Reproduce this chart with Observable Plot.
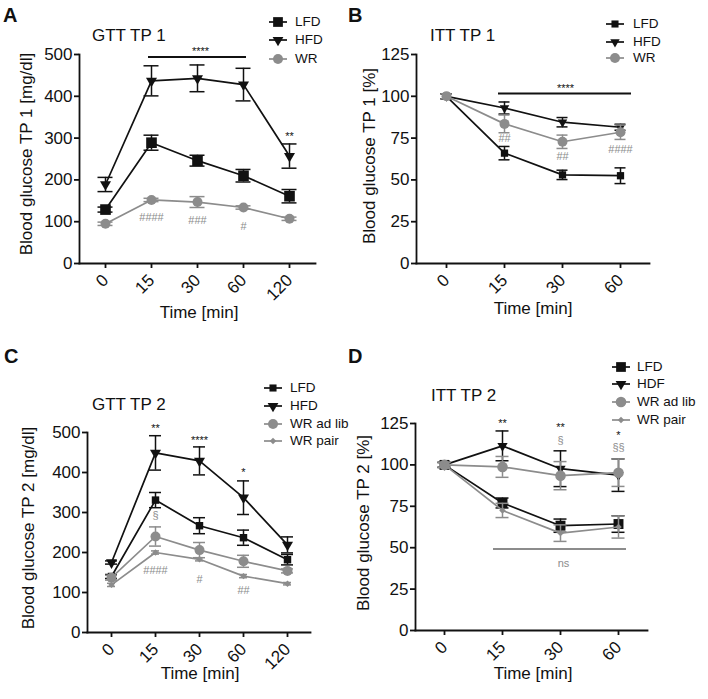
<!DOCTYPE html>
<html><head><meta charset="utf-8">
<script src="https://cdn.jsdelivr.net/npm/d3@7"></script>
<script src="https://cdn.jsdelivr.net/npm/@observablehq/plot@0.6"></script>
<style>
body{margin:0;background:#fff;font-family:"Liberation Sans",Arial,sans-serif;}
#fig{position:relative;width:708px;height:699px;overflow:hidden;background:#fff;}
.abs{position:absolute;white-space:nowrap;color:#111;line-height:1;}
.plot{position:absolute;}
</style></head><body><div id="fig"></div>
<script>
// ---------------- data ----------------
const timesGTT = ["0", "15", "30", "60", "120"];
const timesITT = ["0", "15", "30", "60"];

// A: GTT TP 1 (mg/dl)
const gtt1LFD = [129, 289, 246, 210, 161];
const gtt1LFDerr = [6, 18, 13, 15, 16];
const gtt1HFD = [189, 437, 443, 428, 257];
const gtt1HFDerr = [17, 36, 32, 39, 29];
const gtt1WR = [95, 152, 147, 134, 107];
const gtt1WRerr = [4, 4, 13, 4, 4];
const gtt1Black = [{t: "120", y: 312, s: "**"}];
const gtt1Gray = [{t: "15", y: 110, s: "####"}, {t: "30", y: 104, s: "###"}, {t: "60", y: 89, s: "#"}];
const gtt1Bar = [{from: "15", to: "60", y: 494, t: "30", ly: 514, s: "****"}];

// B: ITT TP 1 (%)
const itt1LFD = [100, 66, 53, 52.5];
const itt1LFDerr = [1.5, 4, 2.8, 4.7];
const itt1HFD = [100, 93, 84.5, 81.5];
const itt1HFDerr = [1.5, 3.6, 2.8, 1.8];
const itt1WR = [100, 83.5, 72.8, 78.5];
const itt1WRerr = [1.5, 5.3, 4, 4.3];
const itt1Gray = [{t: "15", y: 74.8, s: "##"}, {t: "30", y: 63.8, s: "##"}, {t: "60", y: 68.4, s: "####"}];
const itt1Bar = [{from: "15", to: "60", y: 101.7, t: "30", ly: 106.5, s: "****"}];

// C: GTT TP 2 (mg/dl)
const gtt2LFD = [140, 331, 267, 237, 182];
const gtt2LFDerr = [5, 19, 20, 19, 13];
const gtt2HFD = [175, 449, 429, 337, 219];
const gtt2HFDerr = [4, 43, 35, 42, 20];
const gtt2WRad = [137, 240, 206, 178, 154];
const gtt2WRaderr = [6, 24, 19, 15, 5];
const gtt2WRpair = [119, 200, 183, 141, 122];
const gtt2WRpairerr = [4, 4, 4, 4, 3];
const gtt2Black = [{t: "15", y: 517, s: "**"}, {t: "30", y: 488, s: "****"}, {t: "60", y: 408, s: "*"}];
const gtt2Gray = [{t: "15", y: 292, s: "§"}, {t: "15", y: 154, s: "####"}, {t: "30", y: 133, s: "#"}, {t: "60", y: 104, s: "##"}];

// D: ITT TP 2 (%)
const itt2LFD = [100, 77, 63.3, 64.3];
const itt2LFDerr = [1.5, 3, 4, 5];
const itt2HDF = [100, 111.5, 97.7, 93.8];
const itt2HDFerr = [1.5, 9, 10.8, 9.8];
const itt2WRad = [100, 98.8, 93.5, 95.3];
const itt2WRaderr = [1.5, 6.3, 8.5, 8.3];
const itt2WRpair = [100, 72.5, 58.8, 62.5];
const itt2WRpairerr = [1.5, 4.3, 5, 6.7];
const itt2Black = [{t: "15", y: 126.6, s: "**"}, {t: "30", y: 124.6, s: "**"}, {t: "60", y: 119.6, s: "*"}];
const itt2Gray = [{t: "30", y: 114.5, s: "§"}, {t: "60", y: 110.5, s: "§§"}];
const itt2GrayBar = [{from: "15", to: "60", y: 49.2, t: "30", ly: 40.6, s: "ns"}];

// ---------------- styles ----------------
const BLACK = "#111111";
const GRAY = "#8c8c8c";
const FONT = "'Liberation Sans', Arial, Helvetica, sans-serif";
const triangleDown = {
  draw(ctx, size) {
    const s = Math.sqrt(size * 4 / Math.sqrt(3));
    const h = s * Math.sqrt(3) / 2;
    ctx.moveTo(-s / 2, -h / 3);
    ctx.lineTo(s / 2, -h / 3);
    ctx.lineTo(0, 2 * h / 3);
    ctx.closePath();
  }
};
const SYM = {square: d3.symbolSquare, tri: triangleDown, circle: d3.symbolCircle, diamond: d3.symbolDiamond2};

const fig = document.getElementById("fig");

function seriesMarks(times, mean, err, sym, color, r, cap) {
  const rows = times.map((t, i) => ({t, y: mean[i], lo: mean[i] - err[i], hi: mean[i] + err[i]}));
  return [
    Plot.line(rows, {x: "t", y: "y", stroke: color, strokeWidth: 1.7}),
    Plot.ruleX(rows, {x: "t", y1: "lo", y2: "hi", stroke: color, strokeWidth: 1.5}),
    Plot.ruleY(rows, {x1: "t", x2: "t", y: "lo", stroke: color, strokeWidth: 1.5, insetLeft: -cap, insetRight: -cap}),
    Plot.ruleY(rows, {x1: "t", x2: "t", y: "hi", stroke: color, strokeWidth: 1.5, insetLeft: -cap, insetRight: -cap}),
    Plot.dot(rows, {x: "t", y: "y", symbol: SYM[sym], r, fill: color, stroke: "none"})
  ];
}

function textMarks(data, color, dy) {
  return Plot.text(data, {x: "t", y: "y", text: "s", fill: color, fontSize: 11, dy});
}

function barMarks(data, color, il, ir, dy) {
  return [
    Plot.ruleY(data, {x1: "from", x2: "to", y: "y", stroke: color, strokeWidth: 2, insetLeft: il, insetRight: ir}),
    Plot.text(data, {x: "t", y: "ly", text: "s", fill: color, fontSize: 11, dx: 3, dy})
  ];
}

function panel(o) {
  const svg = Plot.plot({
    width: o.width, height: o.height,
    marginLeft: o.ml, marginRight: o.mr, marginTop: o.mt, marginBottom: o.mb,
    style: {fontFamily: FONT, fontSize: "17px", color: BLACK, background: "transparent", overflow: "visible"},
    x: {type: "point", domain: o.times, padding: o.padding},
    y: {domain: o.yDomain},
    marks: [
      Plot.axisY({ticks: o.yTicks, tickSize: 5, tickPadding: 2, strokeWidth: 1.8, label: null, tickFormat: d => String(d)}),
      Plot.axisX({tickSize: 5, strokeWidth: 1.8, label: null, tickFormat: () => ""}),
      Plot.text(o.times, {x: d => d, text: d => d, frameAnchor: "bottom", rotate: -45, textAnchor: "end", lineAnchor: "middle", dy: 14, fontSize: 17, fill: BLACK}),
      Plot.frame({anchor: "left", stroke: BLACK, strokeWidth: 1.8}),
      Plot.frame({anchor: "bottom", stroke: BLACK, strokeWidth: 1.8}),
      ...o.marks
    ]
  });
  svg.classList.add("plot");
  svg.style.left = o.left + "px";
  svg.style.top = o.top + "px";
  fig.appendChild(svg);
}

function addText(txt, x, y, size, opts = {}) {
  const d = document.createElement("div");
  d.className = "abs";
  d.textContent = txt;
  d.style.fontSize = size + "px";
  d.style.fontWeight = opts.bold ? "bold" : "normal";
  d.style.left = x + "px";
  d.style.top = y + "px";
  if (opts.rotate) {
    d.style.transform = "translate(-50%,-50%) rotate(-90deg)";
  } else if (opts.center) {
    d.style.transform = "translate(-50%,-50%)";
  } else {
    d.style.transform = "translate(0,-50%)";
  }
  fig.appendChild(d);
}

function legend(entries, symX, textX, ys) {
  entries.forEach((e, i) => {
    const y = ys[i];
    const ns = "http://www.w3.org/2000/svg";
    const svg = document.createElementNS(ns, "svg");
    svg.setAttribute("width", 24); svg.setAttribute("height", 16);
    svg.style.position = "absolute";
    svg.style.left = (symX - 12) + "px";
    svg.style.top = (y - 8) + "px";
    svg.style.overflow = "visible";
    const line = document.createElementNS(ns, "line");
    line.setAttribute("x1", 3); line.setAttribute("x2", 21);
    line.setAttribute("y1", 8); line.setAttribute("y2", 8);
    line.setAttribute("stroke", e.color); line.setAttribute("stroke-width", 1.7);
    svg.appendChild(line);
    const p = document.createElementNS(ns, "path");
    p.setAttribute("d", d3.symbol(SYM[e.sym], Math.PI * e.r * e.r)());
    p.setAttribute("transform", "translate(12,8)");
    p.setAttribute("fill", e.color);
    svg.appendChild(p);
    fig.appendChild(svg);
    addText(e.name, textX, y, 13.5);
  });
}

// ---------------- Panel A ----------------
panel({
  left: 0, top: 0, width: 354, height: 340, ml: 79, mr: 39, mt: 54, mb: 77,
  times: timesGTT, padding: 0.52, yDomain: [0, 500], yTicks: [0, 100, 200, 300, 400, 500],
  marks: [
    ...seriesMarks(timesGTT, gtt1LFD, gtt1LFDerr, "square", BLACK, 6, 7.5),
    ...seriesMarks(timesGTT, gtt1HFD, gtt1HFDerr, "tri", BLACK, 4.1, 7.5),
    ...seriesMarks(timesGTT, gtt1WR, gtt1WRerr, "circle", GRAY, 5, 7.5),
    ...barMarks(gtt1Bar, BLACK, -3, -3, 3),
    textMarks(gtt1Black, BLACK, 3),
    textMarks(gtt1Gray, GRAY, 0)
  ]
});
addText("A", 3, 15, 20, {bold: true});
addText("GTT TP 1", 92, 35, 17);
addText("Blood glucose TP 1 [mg/dl]", 26, 154, 17, {rotate: true});
addText("Time [min]", 199, 312, 17, {center: true});
legend([
  {name: "LFD", sym: "square", color: BLACK, r: 5.5},
  {name: "HFD", sym: "tri", color: BLACK, r: 4},
  {name: "WR", sym: "circle", color: GRAY, r: 5}
], 278, 295, [22, 39.5, 59]);

// ---------------- Panel B ----------------
panel({
  left: 354, top: 0, width: 354, height: 340, ml: 62, mr: 59, mt: 54, mb: 77,
  times: timesITT, padding: 0.49, yDomain: [0, 125], yTicks: [0, 25, 50, 75, 100, 125],
  marks: [
    ...seriesMarks(timesITT, itt1LFD, itt1LFDerr, "square", BLACK, 4.1, 5.5),
    ...seriesMarks(timesITT, itt1HFD, itt1HFDerr, "tri", BLACK, 3.5, 5.5),
    ...seriesMarks(timesITT, itt1WR, itt1WRerr, "circle", GRAY, 5, 5.5),
    ...barMarks(itt1Bar, BLACK, -6, -11, 3),
    textMarks(itt1Gray, GRAY, 0)
  ]
});
addText("B", 348, 15, 20, {bold: true});
addText("ITT TP 1", 430, 35, 17);
addText("Blood glucose TP 1  [%]", 369, 156, 17, {rotate: true});
addText("Time [min]", 533, 308, 17, {center: true});
legend([
  {name: "LFD", sym: "square", color: BLACK, r: 4},
  {name: "HFD", sym: "tri", color: BLACK, r: 3.5},
  {name: "WR", sym: "circle", color: GRAY, r: 5}
], 615, 633, [24, 42, 58]);

// ---------------- Panel C ----------------
panel({
  left: 0, top: 340, width: 354, height: 359, ml: 87, mr: 44, mt: 92, mb: 67,
  times: timesGTT, padding: 0.5, yDomain: [0, 500], yTicks: [0, 100, 200, 300, 400, 500],
  marks: [
    ...seriesMarks(timesGTT, gtt2LFD, gtt2LFDerr, "square", BLACK, 4.2, 6),
    ...seriesMarks(timesGTT, gtt2HFD, gtt2HFDerr, "tri", BLACK, 4.1, 6),
    ...seriesMarks(timesGTT, gtt2WRad, gtt2WRaderr, "circle", GRAY, 5, 6),
    ...seriesMarks(timesGTT, gtt2WRpair, gtt2WRpairerr, "diamond", GRAY, 2.9, 4),
    textMarks(gtt2Black, BLACK, 3),
    textMarks(gtt2Gray, GRAY, 0)
  ]
});
addText("C", 4, 356, 20, {bold: true});
addText("GTT TP 2", 92, 404, 17);
addText("Blood glucose TP 2 [mg/dl]", 28, 528, 17, {rotate: true});
addText("Time [min]", 200, 673, 17, {center: true});
legend([
  {name: "LFD", sym: "square", color: BLACK, r: 4},
  {name: "HFD", sym: "tri", color: BLACK, r: 4},
  {name: "WR ad lib", sym: "circle", color: GRAY, r: 5},
  {name: "WR pair", sym: "diamond", color: GRAY, r: 2.9}
], 273, 290, [388, 406, 424, 441]);

// ---------------- Panel D ----------------
panel({
  left: 354, top: 340, width: 354, height: 359, ml: 61, mr: 61, mt: 83, mb: 69,
  times: timesITT, padding: 0.5, yDomain: [0, 125], yTicks: [0, 25, 50, 75, 100, 125],
  marks: [
    ...seriesMarks(timesITT, itt2LFD, itt2LFDerr, "square", BLACK, 5.6, 6.5),
    ...seriesMarks(timesITT, itt2HDF, itt2HDFerr, "tri", BLACK, 3.8, 6.5),
    ...seriesMarks(timesITT, itt2WRad, itt2WRaderr, "circle", GRAY, 5.3, 6.5),
    ...seriesMarks(timesITT, itt2WRpair, itt2WRpairerr, "diamond", GRAY, 2.9, 6.5),
    ...barMarks(itt2GrayBar, GRAY, -9, -8, 0),
    textMarks(itt2Black, BLACK, 3),
    textMarks(itt2Gray, GRAY, 0)
  ]
});
addText("D", 348, 356, 20, {bold: true});
addText("ITT TP 2", 431, 395, 17);
addText("Blood glucose TP 2 [%]", 363, 523, 17, {rotate: true});
addText("Time [min]", 533, 673, 17, {center: true});
legend([
  {name: "LFD", sym: "square", color: BLACK, r: 5.5},
  {name: "HDF", sym: "tri", color: BLACK, r: 4},
  {name: "WR ad lib", sym: "circle", color: GRAY, r: 5.3},
  {name: "WR pair", sym: "diamond", color: GRAY, r: 2.9}
], 621, 637, [367, 384, 402, 420]);
</script>
</body></html>
